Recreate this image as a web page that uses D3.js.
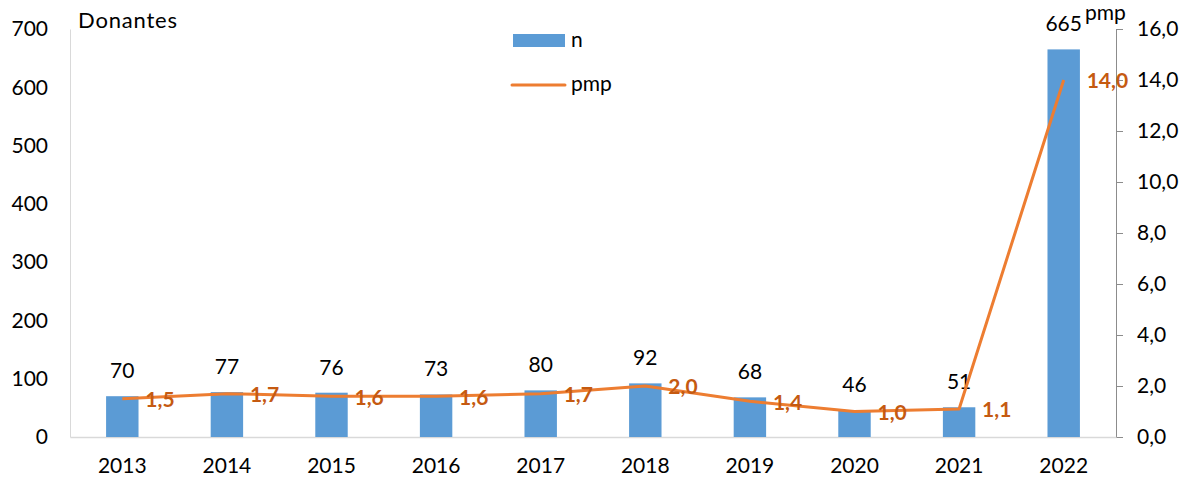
<!DOCTYPE html>
<html><head><meta charset="utf-8">
<script src="https://cdn.jsdelivr.net/npm/d3@7"></script>
<style>body{margin:0;background:#fff}svg{display:block}text{font-family:Lato,"Open Sans",sans-serif}</style>
</head><body>
<svg id="c" width="1197" height="481"></svg>
<script>
const years = ["2013","2014","2015","2016","2017","2018","2019","2020","2021","2022"];
const donantes = [70,77,76,73,80,92,68,46,51,665];
const pmp = [1.5,1.7,1.6,1.6,1.7,2.0,1.4,1.0,1.1,14.0];
const leftTicks = [0,100,200,300,400,500,600,700];
const rightTicks = [0,2,4,6,8,10,12,14,16];

const svg = d3.select("#c");
const FS = 21;
const L = 70, R = 1116, T = 29, B = 437;
const x = d3.scaleBand().domain(years).range([L, R]).paddingInner(0.69).paddingOuter(0.345);
const xc = d => x(d) + x.bandwidth()/2;
const yL = d3.scaleLinear().domain([0,700]).range([B, T]);
const yR = d3.scaleLinear().domain([0,16]).range([B, T]);
const fmt = v => v.toFixed(1).replace(".", ",");

// left axis
const gl = svg.append("g").attr("transform",`translate(${L},0)`)
  .call(d3.axisLeft(yL).tickValues(leftTicks).tickSize(0).tickPadding(22));
gl.select(".domain").attr("stroke","#d9d9d9");
gl.selectAll("text").attr("font-size",FS).attr("fill","#000");

// right axis
const gr = svg.append("g").attr("transform",`translate(${R},0)`)
  .call(d3.axisRight(yR).tickValues(rightTicks).tickSize(7).tickPadding(14).tickFormat(fmt).tickSizeOuter(7));
gr.select(".domain").attr("stroke","#8c8c8c");
gr.selectAll("line").attr("stroke","#8c8c8c");
gr.selectAll("text").attr("font-size",FS).attr("fill","#000");

// bottom axis
const gb = svg.append("g").attr("transform",`translate(0,${B})`)
  .call(d3.axisBottom(x).tickSize(0).tickPadding(21));
gb.select(".domain").attr("stroke","#d9d9d9").attr("stroke-width",1.5);
gb.selectAll("text").attr("font-size",FS).attr("fill","#000");

// bars
svg.append("g").selectAll("rect").data(years).join("rect")
  .attr("x", d => x(d)).attr("width", x.bandwidth())
  .attr("y", (d,i) => yL(donantes[i])).attr("height", (d,i) => B - yL(donantes[i]))
  .attr("fill","#5B9BD5");

svg.append("g").selectAll("text").data(years).join("text")
  .attr("x", d => xc(d)).attr("y", (d,i) => yL(donantes[i]) - 18)
  .attr("text-anchor","middle").attr("font-size",FS).attr("fill","#000")
  .text((d,i) => donantes[i]);

// line
const line = d3.line().x((d,i) => xc(years[i])).y(d => yR(d));
svg.append("path").datum(pmp).attr("d", line).attr("fill","none")
  .attr("stroke","#ED7D31").attr("stroke-width",3).attr("stroke-linejoin","round");

svg.append("g").selectAll("text").data(pmp).join("text")
  .attr("x", (d,i) => xc(years[i]) + 23).attr("y", d => yR(d) + 3)
  .attr("dominant-baseline","middle").attr("font-size",FS).attr("font-weight","bold")
  .attr("fill","#C55A11").text(d => fmt(d));

// titles
svg.append("text").attr("x",78).attr("y",28).attr("font-size",22).attr("letter-spacing",0.8).text("Donantes");
svg.append("text").attr("x",1085).attr("y",20).attr("font-size",FS).text("pmp");

// legend
svg.append("rect").attr("x",513).attr("y",34).attr("width",52).attr("height",13).attr("fill","#5B9BD5");
svg.append("text").attr("x",571).attr("y",47).attr("font-size",FS).text("n");
svg.append("line").attr("x1",512).attr("x2",565).attr("y1",85).attr("y2",85)
  .attr("stroke","#ED7D31").attr("stroke-width",3).attr("stroke-linecap","round");
svg.append("text").attr("x",571).attr("y",91).attr("font-size",FS).text("pmp");
</script>
</body></html>
